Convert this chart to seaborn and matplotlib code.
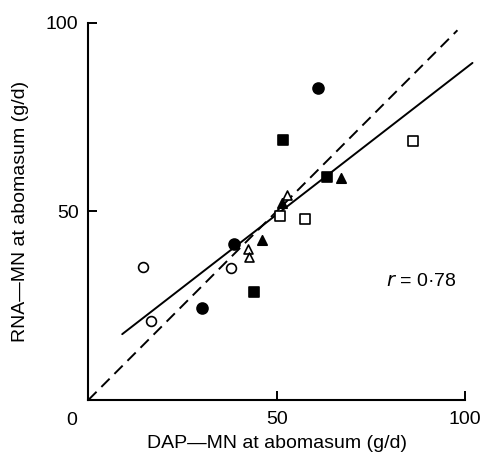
import numpy as np
import matplotlib
matplotlib.use('Agg')
import matplotlib.pyplot as plt
import seaborn as sns

# data (g/d)
filled_circle_x = [60.9, 38.7, 30.1]
filled_circle_y = [82.8, 41.3, 24.3]
open_circle_x = [37.9, 14.6, 16.6]
open_circle_y = [35.1, 35.2, 21.0]
filled_square_x = [51.8, 63.4, 44.0]
filled_square_y = [68.9, 59.2, 28.7]
open_square_x = [86.3, 50.9, 57.5]
open_square_y = [68.6, 48.8, 47.9]
filled_triangle_x = [67.1, 51.4, 46.0]
filled_triangle_y = [58.8, 52.1, 42.4]
open_triangle_x = [52.7, 42.5, 42.7]
open_triangle_y = [54.3, 40.0, 38.0]

# regression line and line of equality
fit_intercept = 10.5
fit_slope = 0.773
fit_x = [9.0, 102.0]
equal_x = [0, 98]
r_value = '0·78'

sns.set_theme(style='white')
plt.rcParams['font.family'] = ['Liberation Sans', 'DejaVu Sans']
plt.rcParams.update({
    'text.color': 'black', 'axes.labelcolor': 'black',
    'xtick.direction': 'in', 'ytick.direction': 'in',
    'xtick.bottom': True, 'ytick.left': True,
})

fig = plt.figure(figsize=(4.86, 4.59), dpi=100)
ax = fig.add_axes([0.1817, 0.1285, 0.775, 0.822])

# lines
fx = np.array(fit_x)
sns.lineplot(x=fx, y=fit_intercept + fit_slope * fx, color='black', lw=1.4, ax=ax, clip_on=False)
ex = np.array(equal_x)
sns.lineplot(x=ex, y=ex, color='black', lw=1.4, ax=ax, clip_on=False)
ax.lines[-1].set_dashes((6, 3.5))

# points
groups = [
    (filled_circle_x, filled_circle_y, 'o', 'black', 62),
    (open_circle_x, open_circle_y, 'o', 'white', 50),
    (filled_square_x, filled_square_y, 's', 'black', 52),
    (open_square_x, open_square_y, 's', 'white', 46),
    (filled_triangle_x, filled_triangle_y, '^', 'black', 46),
    (open_triangle_x, open_triangle_y, '^', 'white', 42),
]
for gx, gy, m, fc, s in groups:
    sns.scatterplot(x=gx, y=gy, marker=m, facecolor=fc, edgecolor='black',
                    linewidth=1.2, s=s, ax=ax, zorder=3, clip_on=False)

ax.set_xlim(0, 100)
ax.set_ylim(0, 100)
ax.set_xticks([50, 100])
ax.set_yticks([50, 100])
ax.tick_params(bottom=True, left=True, direction='in', length=6.5, width=1.4,
               labelsize=14, colors='black')
ax.tick_params(axis='x', pad=8)
ax.tick_params(axis='y', pad=7)
for side in ['top', 'right']:
    ax.spines[side].set_visible(False)
for side in ['left', 'bottom']:
    ax.spines[side].set_linewidth(1.5)
    ax.spines[side].set_color('black')

ax.annotate('0', xy=(0, 0), xytext=(-12, -15), textcoords='offset points',
            ha='center', va='center', fontsize=14)
ax.text(79, 31.4, r'$r$ = ' + r_value, fontsize=14, va='center', ha='left')

ax.set_xlabel('DAP\u2014MN at abomasum (g/d)', fontsize=14, labelpad=5)
ax.set_ylabel('RNA\u2014MN at abomasum (g/d)', fontsize=14, labelpad=12)

fig.savefig('out.png', dpi=100)
